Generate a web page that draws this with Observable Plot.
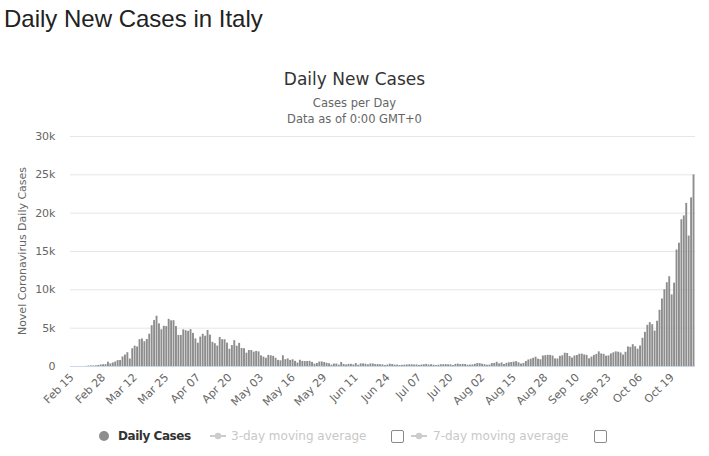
<!DOCTYPE html>
<html><head><meta charset="utf-8">
<script src="https://cdn.jsdelivr.net/npm/d3@7"></script>
<script src="https://cdn.jsdelivr.net/npm/@observablehq/plot@0.6"></script>
<style>
body{margin:0;background:#fff;width:709px;height:456px;position:relative;overflow:hidden;font-family:"DejaVu Sans",sans-serif;}
#title{position:absolute;left:4px;top:5px;font-family:"Liberation Sans",Arial,sans-serif;font-size:24px;color:#222;white-space:nowrap;}
#ctitle{position:absolute;left:0;width:709px;top:69px;text-align:center;font-size:17px;color:#333;}
#sub{position:absolute;left:0;width:709px;top:95px;text-align:center;font-size:11.5px;color:#666;line-height:16px;}
#ylab{position:absolute;left:22px;top:251px;transform:translate(-50%,-50%) rotate(-90deg);font-size:11px;color:#666;white-space:nowrap;}
#chart{position:absolute;left:0;top:125px;}
.lg{position:absolute;white-space:nowrap;font-size:12px;line-height:14px;}
.box{position:absolute;width:11px;height:11px;border:1px solid #8a8a8a;border-radius:2px;background:#fff;}
</style></head>
<body>
<div id="title">Daily New Cases in Italy</div>
<div id="ctitle">Daily New Cases</div>
<div id="sub">Cases per Day<br>Data as of 0:00 GMT+0</div>
<div id="ylab">Novel Coronavirus Daily Cases</div>
<div id="chart"></div>
<div id="legend"></div>
<script>
// Daily new cases, Feb 15 – Oct 28 (one value per day)
const startDate = "2020-02-15";
const febCases = [0,0,0,0,0,0,17,59,76,69,93,131,202,233,240];
const marCases = [566,342,466,587,769,778,1247,1492,1797,977,2313,2651,2547,3497,3590,3233,3526,4207,5322,5986,6557,5560,4789,5249,5210,6153,5959,5974,5217,4050,4053];
const aprCases = [4782,4668,4585,4805,4316,3599,3039,3836,4204,3951,4694,4092,3153,2972,2667,3786,3493,3491,3047,2256,2729,3370,2646,3021,2357,2324,1739,2091,2086,1872];
const mayCases = [1965,1900,1389,1221,1075,1444,1401,1327,1083,802,744,1402,888,992,789,875,675,451,813,665,642,652,669,531,300,397,584,593,516,416,355];
const junCases = [178,318,321,177,518,270,197,280,283,202,379,163,346,338,301,210,329,333,251,262,224,218,122,190,296,259,175,174,126,142];
const julCases = [182,201,223,235,192,208,138,193,229,276,188,234,169,114,163,230,233,249,219,218,129,282,306,252,274,255,170,181,212,289,386];
const augCases = [379,295,239,159,190,384,402,552,347,463,259,412,481,523,574,629,479,320,403,642,845,947,1071,1210,953,878,1367,1411,1460,1444,1365];
const sepCases = [996,978,1326,1397,1733,1694,1297,1108,1370,1434,1597,1616,1501,1456,1008,1229,1452,1585,1907,1638,1587,1350,1392,1640,1786,1912,1869,1766,1494,1851];
const octCases = [2548,2499,2844,2578,2257,2677,3678,4458,5372,5724,5456,4619,5901,7332,8804,10010,10925,11705,9338,10874,15199,16079,19143,19644,21273,17012,21994,24991];
const xTickLabels = ["Feb 15","Feb 28","Mar 12","Mar 25","Apr 07","Apr 20","May 03","May 16","May 29","Jun 11","Jun 24","Jul 07","Jul 20","Aug 02","Aug 15","Aug 28","Sep 10","Sep 23","Oct 06","Oct 19"];
const yTicks = [0,5000,10000,15000,20000,25000,30000];
const yTickLabels = ["0","5k","10k","15k","20k","25k","30k"];
const legendItems = ["Daily Cases","3-day moving average","7-day moving average"];

const allCases = [...febCases,...marCases,...aprCases,...mayCases,...junCases,...julCases,...augCases,...sepCases,...octCases];
const fmt = d3.utcFormat("%b %d");
const start = d3.utcParse("%Y-%m-%d")(startDate);
const data = allCases.map((v,i)=>({date: fmt(d3.utcDay.offset(start,i)), cases: v}));

const chart = Plot.plot({
  width: 709, height: 290,
  marginTop: 11, marginBottom: 49, marginLeft: 70, marginRight: 14,
  style: {fontFamily: "DejaVu Sans, sans-serif", fontSize: "11px", color: "#666", background: "transparent", overflow: "visible"},
  x: {type: "band", domain: data.map(d=>d.date), padding: 0.22},
  y: {domain: [0, 30000]},
  marks: [
    Plot.ruleY(yTicks.slice(1), {stroke: "#e6e6e6", strokeWidth: 1}),
    Plot.barY(data, {x: "date", y: "cases", fill: "#8d8d8d"}),
    Plot.ruleY([0], {stroke: "#ccd6eb", strokeWidth: 1}),
    Plot.axisY(yTicks, {tickSize: 0, tickPadding: 15, tickFormat: (d,i)=>yTickLabels[yTicks.indexOf(d)], label: null, fill: "#666"}),
    Plot.axisX(xTickLabels, {tickSize: 0, tickRotate: -45, tickPadding: 9, label: null, fill: "#666"})
  ]
});
document.getElementById("chart").appendChild(chart);

// legend
const lg = document.getElementById("legend");
function add(html){ lg.insertAdjacentHTML("beforeend", html); }
add(`<div style="position:absolute;left:99px;top:431px;width:10px;height:10px;border-radius:50%;background:#8d8d8d"></div>`);
add(`<div class="lg" style="left:118px;top:429px;font-weight:bold;color:#333;letter-spacing:-0.45px">${legendItems[0]}</div>`);
function sym(x){
  add(`<svg style="position:absolute;left:${x}px;top:430px" width="16" height="12"><line x1="0" y1="6" x2="16" y2="6" stroke="#ccc" stroke-width="2"/><circle cx="8" cy="6" r="3.2" fill="#ccc"/></svg>`);
}
sym(210);
add(`<div class="lg" style="left:231px;top:429px;color:#c8c8c8">${legendItems[1]}</div>`);
add(`<div class="box" style="left:391px;top:430px"></div>`);
sym(411);
add(`<div class="lg" style="left:433px;top:429px;color:#c8c8c8">${legendItems[2]}</div>`);
add(`<div class="box" style="left:594px;top:430px"></div>`);
</script>
</body></html>
